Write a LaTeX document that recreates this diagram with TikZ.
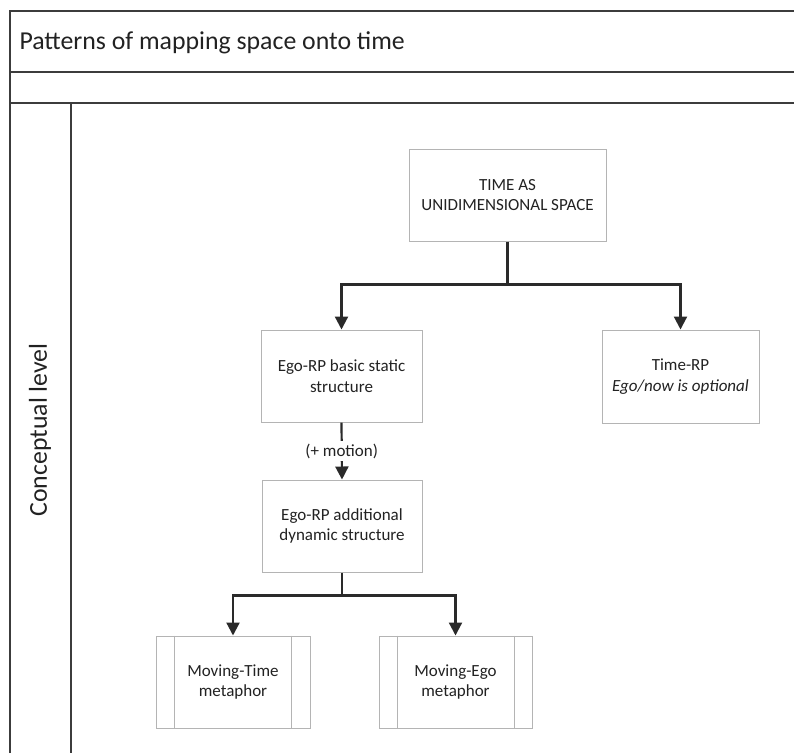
\documentclass[tikz,border=0pt]{standalone}
\usepackage{fontspec}
\setmainfont{Carlito}
\usetikzlibrary{arrows.meta,calc}
\definecolor{framecol}{HTML}{3C3C3C}
\definecolor{boxcol}{HTML}{B4B4B4}
\definecolor{txtcol}{HTML}{222222}
\definecolor{arrcol}{HTML}{2A2A2A}
\begin{document}
\begin{tikzpicture}[x=1pt,y=-1pt,
  frame/.style={draw=framecol,line width=1.5pt},
  box/.style={draw=boxcol,line width=1pt,fill=white,align=center,text=txtcol,
    font=\fontsize{17}{20.7}\selectfont,inner sep=2pt},
  conn/.style={draw=arrcol,line width=2.2pt},
  arr/.style={conn,-{Triangle[length=13pt,width=13pt]}},
  big/.style={text=txtcol,font=\fontsize{25.8}{30}\selectfont}]
\useasboundingbox (0,0) rectangle (794,753);
% frame
\draw[frame] (10,753) -- (10,11) -- (794,11);
\draw[frame] (10,72) -- (794,72);
\draw[frame] (10,103) -- (794,103);
\draw[frame] (71,103) -- (71,753);
\node[big,anchor=west] (title) at (16,43) {Patterns of mapping space onto time};
\node[big,rotate=90] (lane) at (40,430) {Conceptual level};
% boxes
\node[box,minimum width=197pt,minimum height=92pt] (time) at (507.5,195) {TIME AS\\UNIDIMENSIONAL SPACE};
\node[box,minimum width=161pt,minimum height=92pt] (basic) at (341.5,376) {Ego-RP basic static\\structure};
\node[box,minimum width=157pt,minimum height=93pt] (timerp) at (680.5,376.5) {Time-RP\\\textit{Ego/now is optional}};
\node[box,minimum width=160pt,minimum height=92pt] (add) at (342,526) {Ego-RP additional\\dynamic structure};
\node[box,minimum width=154pt,minimum height=92pt] (mt) at (233,682) {Moving-Time\\metaphor};
\node[box,minimum width=153pt,minimum height=92pt] (me) at (455.5,682) {Moving-Ego\\metaphor};
\draw[draw=boxcol,line width=1pt] ($(mt.north west)+(19,0)$) -- ($(mt.south west)+(19,0)$);
\draw[draw=boxcol,line width=1pt] ($(mt.north east)+(-19,0)$) -- ($(mt.south east)+(-19,0)$);
\draw[draw=boxcol,line width=1pt] ($(me.north west)+(19,0)$) -- ($(me.south west)+(19,0)$);
\draw[draw=boxcol,line width=1pt] ($(me.north east)+(-18,0)$) -- ($(me.south east)+(-18,0)$);
% connectors
\draw[conn] (time.south) -- ++(0,43) coordinate (j1);
\draw[arr] (j1) -| (basic.north);
\draw[arr] (j1) -| (timerp.north);
\draw[arr] (basic.south) -- node[fill=white,text=txtcol,font=\fontsize{17}{20.7}\selectfont,inner sep=3pt] (motion) {(+ motion)} (add.north);
\draw[conn] (add.south) -- ++(0,23) coordinate (j2);
\draw[arr] (j2) -| (mt.north);
\draw[arr] (j2) -| (me.north);
\end{tikzpicture}
\end{document}
